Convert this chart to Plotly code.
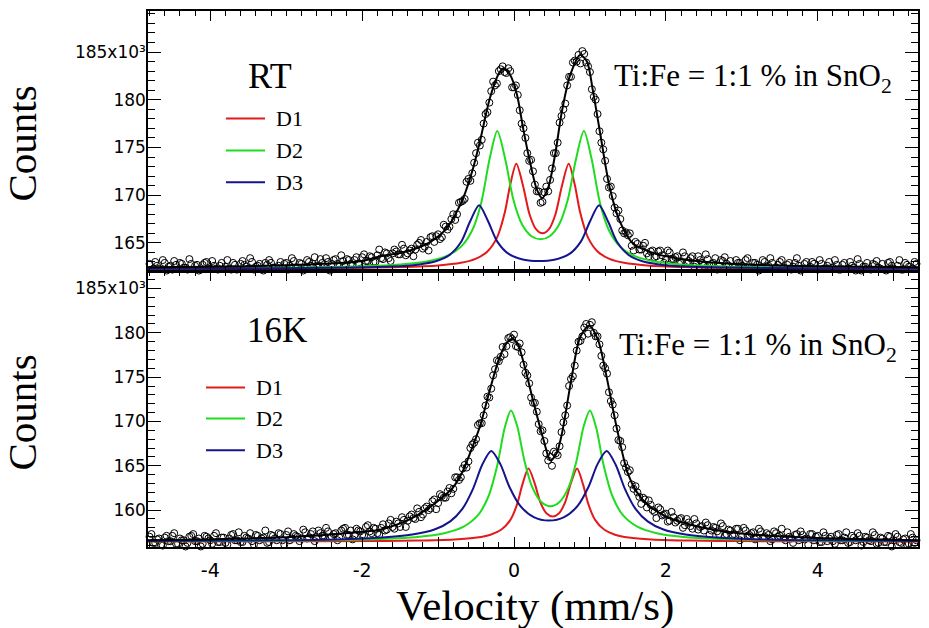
import plotly.graph_objects as go

# ---------------- data ----------------
# channel velocities (mm/s)
velocity = [
-4.800,-4.775,-4.750,-4.725,-4.700,-4.675,-4.650,-4.625,
-4.600,-4.575,-4.550,-4.525,-4.500,-4.475,-4.450,-4.425,
-4.400,-4.375,-4.350,-4.325,-4.300,-4.275,-4.250,-4.225,
-4.200,-4.175,-4.150,-4.125,-4.100,-4.075,-4.050,-4.025,
-4.000,-3.975,-3.950,-3.925,-3.900,-3.875,-3.850,-3.825,
-3.800,-3.775,-3.750,-3.725,-3.700,-3.675,-3.650,-3.625,
-3.600,-3.575,-3.550,-3.525,-3.500,-3.475,-3.450,-3.425,
-3.400,-3.375,-3.350,-3.325,-3.300,-3.275,-3.250,-3.225,
-3.200,-3.175,-3.150,-3.125,-3.100,-3.075,-3.050,-3.025,
-3.000,-2.975,-2.950,-2.925,-2.900,-2.875,-2.850,-2.825,
-2.800,-2.775,-2.750,-2.725,-2.700,-2.675,-2.650,-2.625,
-2.600,-2.575,-2.550,-2.525,-2.500,-2.475,-2.450,-2.425,
-2.400,-2.375,-2.350,-2.325,-2.300,-2.275,-2.250,-2.225,
-2.200,-2.175,-2.150,-2.125,-2.100,-2.075,-2.050,-2.025,
-2.000,-1.975,-1.950,-1.925,-1.900,-1.875,-1.850,-1.825,
-1.800,-1.775,-1.750,-1.725,-1.700,-1.675,-1.650,-1.625,
-1.600,-1.575,-1.550,-1.525,-1.500,-1.475,-1.450,-1.425,
-1.400,-1.375,-1.350,-1.325,-1.300,-1.275,-1.250,-1.225,
-1.200,-1.175,-1.150,-1.125,-1.100,-1.075,-1.050,-1.025,
-1.000,-0.975,-0.950,-0.925,-0.900,-0.875,-0.850,-0.825,
-0.800,-0.775,-0.750,-0.725,-0.700,-0.675,-0.650,-0.625,
-0.600,-0.575,-0.550,-0.525,-0.500,-0.475,-0.450,-0.425,
-0.400,-0.375,-0.350,-0.325,-0.300,-0.275,-0.250,-0.225,
-0.200,-0.175,-0.150,-0.125,-0.100,-0.075,-0.050,-0.025,
0.000,0.025,0.050,0.075,0.100,0.125,0.150,0.175,
0.200,0.225,0.250,0.275,0.300,0.325,0.350,0.375,
0.400,0.425,0.450,0.475,0.500,0.525,0.550,0.575,
0.600,0.625,0.650,0.675,0.700,0.725,0.750,0.775,
0.800,0.825,0.850,0.875,0.900,0.925,0.950,0.975,
1.000,1.025,1.050,1.075,1.100,1.125,1.150,1.175,
1.200,1.225,1.250,1.275,1.300,1.325,1.350,1.375,
1.400,1.425,1.450,1.475,1.500,1.525,1.550,1.575,
1.600,1.625,1.650,1.675,1.700,1.725,1.750,1.775,
1.800,1.825,1.850,1.875,1.900,1.925,1.950,1.975,
2.000,2.025,2.050,2.075,2.100,2.125,2.150,2.175,
2.200,2.225,2.250,2.275,2.300,2.325,2.350,2.375,
2.400,2.425,2.450,2.475,2.500,2.525,2.550,2.575,
2.600,2.625,2.650,2.675,2.700,2.725,2.750,2.775,
2.800,2.825,2.850,2.875,2.900,2.925,2.950,2.975,
3.000,3.025,3.050,3.075,3.100,3.125,3.150,3.175,
3.200,3.225,3.250,3.275,3.300,3.325,3.350,3.375,
3.400,3.425,3.450,3.475,3.500,3.525,3.550,3.575,
3.600,3.625,3.650,3.675,3.700,3.725,3.750,3.775,
3.800,3.825,3.850,3.875,3.900,3.925,3.950,3.975,
4.000,4.025,4.050,4.075,4.100,4.125,4.150,4.175,
4.200,4.225,4.250,4.275,4.300,4.325,4.350,4.375,
4.400,4.425,4.450,4.475,4.500,4.525,4.550,4.575,
4.600,4.625,4.650,4.675,4.700,4.725,4.750,4.775,
4.800,4.825,4.850,4.875,4.900,4.925,4.950,4.975,
5.000,5.025,5.050,5.075,5.100,5.125,5.150,5.175,
5.200,5.225,5.250,5.275,5.300]

# counts in units of 10^3, room temperature
counts_rt = [
162.8,161.9,162.3,163.0,162.6,162.3,162.0,163.2,
162.9,162.1,162.5,162.6,162.2,163.1,162.7,161.8,
162.9,162.8,162.4,162.4,162.2,163.3,162.8,162.0,
162.6,162.7,162.1,162.2,162.7,162.9,163.0,161.7,
162.3,163.1,162.6,162.3,162.2,162.6,162.9,162.0,
162.5,163.2,162.3,162.2,162.9,162.7,162.2,162.0,
162.8,163.1,162.7,162.5,162.3,163.4,163.0,162.2,
162.5,162.6,162.8,161.9,162.1,162.9,162.7,163.2,
162.9,162.4,162.4,161.8,162.6,163.0,162.3,162.8,
162.9,162.2,162.6,163.4,163.1,162.4,162.4,162.9,
162.8,162.1,162.3,163.2,163.0,162.6,162.8,163.5,
162.6,162.4,163.3,162.9,162.5,163.4,163.0,162.1,
162.8,163.2,163.3,162.8,162.5,163.7,163.1,162.5,
163.3,163.2,162.8,162.7,163.2,163.5,162.8,162.3,
163.5,163.8,163.1,163.1,163.6,163.5,163.0,163.0,
163.7,164.3,163.4,163.3,164.0,163.9,163.4,163.1,
163.9,164.3,164.1,163.8,163.8,164.8,164.4,163.7,
163.9,164.2,164.4,163.6,164.3,164.8,165.0,165.3,
164.4,164.6,165.1,164.2,165.6,165.7,165.1,165.7,
165.9,165.4,165.6,166.9,166.7,166.4,166.7,167.5,
168.0,167.4,168.0,169.2,169.3,169.4,169.6,171.4,
171.7,171.5,172.3,173.4,174.4,175.5,175.2,175.8,
177.5,178.5,178.7,179.7,180.9,181.9,181.5,181.7,
183.0,183.2,183.5,182.9,182.8,183.3,183.0,181.3,
181.3,181.5,180.5,178.9,177.5,177.0,176.0,174.4,
173.6,173.7,172.5,171.1,170.4,170.4,169.2,169.3,
170.3,170.9,170.4,171.6,172.8,174.4,174.4,175.5,
177.6,178.3,179.0,179.6,181.5,182.4,182.4,183.9,
184.1,184.0,184.7,183.8,185.1,184.8,183.9,183.5,
182.9,181.1,180.3,180.0,178.5,176.7,175.5,174.8,
173.6,171.7,170.8,170.9,169.9,168.7,168.1,168.4,
167.5,166.3,166.0,166.1,165.8,166.0,164.7,164.2,
165.1,164.9,164.3,164.3,164.7,165.0,163.9,163.6,
164.1,164.2,163.5,163.6,164.1,164.2,163.7,162.9,
163.3,164.2,164.0,163.3,163.3,163.5,163.6,162.8,
162.9,164.0,163.6,162.9,163.1,163.4,163.6,162.5,
162.8,163.6,163.2,162.9,162.6,163.8,163.3,162.6,
162.8,162.9,163.4,162.2,162.6,163.2,163.1,163.5,
162.8,162.6,163.1,162.0,162.4,163.2,162.9,162.9,
162.6,162.3,163.2,163.4,162.4,162.4,162.9,162.9,
162.7,162.1,162.3,163.2,163.0,162.5,162.6,163.4,
162.9,162.3,162.4,162.7,163.0,163.2,162.4,161.9,
162.7,162.9,162.2,162.5,162.9,163.4,162.6,162.1,
162.3,162.8,163.0,162.3,162.5,163.0,162.8,161.8,
162.2,163.2,162.8,162.3,162.3,162.6,163.0,162.0,
162.4,163.2,162.7,162.2,162.2,162.7,162.9,161.9,
162.3,163.0,162.6,162.4,162.1,163.3,162.8,162.1,
162.5,162.5,162.9,161.8,162.2,162.8,162.7,163.1,
162.4,162.3,162.8,161.7,162.1,162.9,163.0,162.6,
162.3,162.0,162.6,163.2,162.2,162.2,162.9,162.7,
162.5,161.9,162.3,163.0,162.8]

# counts in units of 10^3, 16 K
counts_16k = [
157.0,157.3,156.3,156.3,156.7,156.8,156.1,156.0,
156.9,157.1,156.5,156.5,157.1,157.4,156.2,156.2,
156.8,156.6,156.6,155.9,156.3,157.0,157.1,157.3,
156.5,156.5,156.8,155.9,156.2,157.1,157.0,156.8,
156.6,156.2,157.1,157.4,156.4,156.4,156.9,156.9,
156.3,156.1,156.8,157.2,157.3,156.6,156.6,157.5,
156.4,156.4,157.1,156.9,156.8,157.4,156.5,156.1,
157.2,157.1,156.6,156.8,156.9,157.7,156.3,156.4,
157.2,157.1,156.8,156.6,157.4,157.3,156.6,156.1,
157.2,157.6,156.6,156.8,157.3,157.1,157.0,156.5,
156.8,157.8,157.5,156.8,156.9,157.3,157.6,156.5,
156.8,157.7,157.4,157.1,157.1,158.0,157.6,156.9,
157.0,157.3,157.4,156.6,156.9,157.7,157.9,158.0,
157.2,157.2,157.7,156.7,157.2,157.9,157.7,157.6,
157.2,157.1,158.1,158.3,157.6,157.4,158.0,157.9,
157.4,157.2,158.0,158.4,157.7,157.8,158.5,158.9,
158.1,157.9,158.7,158.5,158.1,159.2,158.9,158.1,
158.8,159.3,159.5,159.1,159.0,160.2,159.8,159.2,
159.5,160.2,160.4,160.0,160.2,161.0,161.2,160.1,
160.8,161.8,161.6,161.4,161.4,162.1,162.5,161.9,
162.4,163.7,163.7,163.4,163.7,164.7,165.1,164.8,
165.5,167.0,167.4,167.6,168.0,169.6,169.8,169.8,
170.7,171.8,172.8,172.7,173.7,175.2,175.9,176.9,
176.8,177.3,178.4,177.6,178.5,179.4,179.5,179.3,
179.8,178.5,178.4,178.8,177.8,176.4,175.5,175.2,
174.3,172.7,172.1,172.1,171.1,169.7,168.9,169.0,
167.8,166.4,165.6,166.0,165.0,166.6,166.4,166.2,
167.2,168.8,169.9,170.7,171.8,174.0,174.8,175.1,
176.3,178.0,179.0,179.1,179.6,180.6,181.0,179.9,
180.9,181.2,180.0,179.6,179.6,178.7,177.4,176.3,
176.0,175.4,173.3,172.3,171.9,170.7,169.2,167.9,
167.8,167.1,165.3,164.8,164.3,164.5,162.9,162.4,
162.7,162.0,161.5,160.7,161.4,161.2,160.3,161.1,
160.6,160.0,159.8,159.1,160.3,160.1,159.4,159.5,
159.6,158.7,158.8,159.8,159.2,158.6,158.8,159.0,
159.1,158.0,158.3,159.0,158.6,158.2,157.9,159.0,
158.5,157.8,158.1,158.2,157.7,158.6,158.3,157.2,
157.7,158.1,158.0,157.6,157.3,158.5,158.2,157.1,
157.3,157.8,157.7,157.2,157.3,157.9,157.9,156.6,
157.0,158.0,157.7,157.1,157.2,157.4,157.5,156.7,
156.9,157.9,157.6,156.9,157.0,157.4,157.2,156.5,
156.7,157.6,157.4,157.0,157.1,157.9,156.8,156.6,
157.5,157.0,156.8,156.3,157.2,157.3,156.6,157.6,
157.2,156.7,156.8,156.1,157.3,157.3,156.6,157.0,
157.1,156.4,156.4,157.5,157.1,156.5,156.8,157.0,
156.5,156.2,157.2,157.3,156.6,156.6,156.9,157.5,
156.3,156.4,157.1,156.9,156.6,157.4,157.1,156.0,
156.4,157.0,156.9,156.6,156.5,157.5,157.2,156.2,
156.3,156.9,156.8,156.4,156.4,157.1,157.0,155.9,
156.6,157.3,157.0,156.4,156.3,156.7,156.8,156.1,
156.2,157.3,156.9,156.3,156.6]

# total fit (black)
fit_rt_v = [-4.82,-4.0,-3.0,-2.5,-2.0,-1.76,-1.5,-1.33,-1.10,-0.88,-0.67,-0.54,-0.45,-0.32,
            -0.21,-0.14,-0.05,0.04,0.12,0.21,0.30,0.37,0.45,0.54,0.63,0.74,0.87,0.96,1.04,
            1.13,1.26,1.39,1.57,1.85,2.2,2.6,3.2,4.0,5.32]
fit_rt = [162.45,162.5,162.65,162.8,163.1,163.6,163.95,164.3,165.1,166.6,169.7,172.8,175.6,180.1,
          182.6,183.3,182.6,180.5,177.0,173.5,170.6,169.7,170.8,174.2,178.75,182.6,184.7,184.0,180.9,
          176.7,170.8,167.3,164.9,163.9,163.3,162.95,162.7,162.55,162.45]

fit_16k_v = [-4.82,-4.0,-3.0,-2.5,-2.0,-1.76,-1.5,-1.3,-1.1,-0.95,-0.80,-0.68,-0.58,-0.45,-0.32,
             -0.20,-0.10,-0.03,0.04,0.12,0.25,0.39,0.48,0.56,0.63,0.76,0.87,0.99,1.11,1.22,1.35,
             1.5,1.62,1.76,2.0,2.3,2.7,3.2,4.0,5.32]
fit_16k = [156.6,156.7,156.95,157.2,157.55,157.8,158.5,159.3,160.4,161.4,162.6,164.3,166.4,169.4,173.5,
           177.0,178.8,179.3,178.9,176.85,172.4,167.9,165.6,166.4,168.6,175.0,179.5,180.8,179.1,175.0,169.4,
           164.1,162.0,160.6,159.3,158.4,157.7,157.2,156.85,156.6]

# sub-spectra, RT
d1_rt_v = [-4.8,-3.0,-2.0,-1.5,-1.0,-0.7,-0.5,-0.35,-0.22,-0.12,-0.05,0.03,0.12,0.205,0.29,0.375,
           0.46,0.545,0.63,0.72,0.80,0.87,0.97,1.10,1.25,1.45,1.75,2.25,2.75,3.75,5.55]
d1_rt = [162.32,162.35,162.40,162.47,162.64,162.91,163.35,164.10,165.63,168.23,171.09,173.28,170.93,167.98,166.44,166.00,
         166.44,167.98,170.93,173.28,171.09,168.23,165.63,164.10,163.35,162.91,162.64,162.47,162.40,162.35,162.32]
d2_rt_v = [-4.82,-3.65,-2.65,-2.0,-1.5,-1.15,-0.9,-0.7,-0.55,-0.43,-0.32,-0.22,-0.11,-0.01,0.11,0.23,0.35,
           0.47,0.59,0.71,0.81,0.92,1.02,1.13,1.25,1.40,1.60,1.85,2.20,2.70,3.35,4.35,5.52]
d2_rt = [162.35,162.37,162.44,162.54,162.73,163.05,163.58,164.58,166.32,169.26,173.86,176.72,173.56,169.58,166.87,165.70,165.37,
         165.70,166.87,169.58,173.56,176.72,173.86,169.26,166.32,164.58,163.58,163.05,162.73,162.54,162.44,162.37,162.35]
d3_rt_v = [-4.82,-3.67,-2.77,-2.12,-1.62,-1.27,-1.02,-0.85,-0.70,-0.58,-0.46,-0.34,-0.22,-0.07,0.13,0.33,
           0.53,0.73,0.88,1.00,1.12,1.24,1.36,1.51,1.68,1.93,2.28,2.78,3.43,4.33,5.48]
d3_rt = [162.32,162.34,162.37,162.42,162.52,162.72,163.10,163.73,165.06,167.21,168.95,167.24,165.13,163.84,163.23,163.09,
         163.23,163.84,165.13,167.24,168.95,167.21,165.06,163.73,163.10,162.72,162.52,162.42,162.37,162.34,162.32]

# sub-spectra, 16K
d1_16k_v = [-4.82,-2.99,-1.99,-1.29,-0.79,-0.49,-0.31,-0.17,-0.05,0.04,0.11,0.19,0.27,0.35,0.43,0.51,
            0.59,0.67,0.75,0.83,0.91,0.98,1.07,1.19,1.33,1.51,1.81,2.31,3.01,4.01,5.84]
d1_16k = [156.46,156.48,156.51,156.57,156.70,156.91,157.23,157.78,158.87,160.64,162.87,164.69,163.07,160.81,159.61,159.27,
          159.61,160.81,163.07,164.69,162.87,160.64,158.87,157.78,157.23,156.91,156.70,156.57,156.51,156.48,156.46]
d2_16k_v = [-4.82,-3.52,-2.52,-1.77,-1.27,-0.92,-0.67,-0.48,-0.34,-0.22,-0.12,-0.04,0.04,0.14,0.24,0.36,0.48,
            0.60,0.72,0.82,0.92,1.00,1.08,1.18,1.30,1.44,1.63,1.88,2.23,2.73,3.48,4.48,5.78]
d2_16k = [156.50,156.53,156.60,156.74,156.97,157.39,158.10,159.37,161.48,165.07,169.37,171.25,169.54,165.46,162.59,160.91,160.44,
          160.91,162.59,165.46,169.54,171.25,169.37,165.07,161.48,159.37,158.10,157.39,156.97,156.74,156.60,156.53,156.50]
d3_16k_v = [-4.82,-3.14,-2.34,-1.74,-1.34,-1.04,-0.84,-0.68,-0.54,-0.42,-0.30,-0.18,-0.06,0.08,0.26,0.46,
            0.66,0.84,0.98,1.10,1.22,1.34,1.46,1.60,1.76,1.96,2.26,2.66,3.26,4.06,5.74]
d3_16k = [156.51,156.59,156.69,156.90,157.24,157.84,158.73,160.14,162.40,165.09,166.67,165.19,162.61,160.50,159.21,158.82,
          159.21,160.50,162.61,165.19,166.67,165.09,162.40,160.14,158.73,157.84,157.24,156.90,156.69,156.59,156.51]

legend_names = ["D1", "D2", "D3"]
sample_label = "Ti:Fe = 1:1 % in SnO<sub>2</sub>"
yticks_rt = [165, 170, 175, 180, 185]
yticks_16k = [160, 165, 170, 175, 180, 185]
xticks = [-4, -3, -2, -1, 0, 1, 2, 3, 4, 5]

# ---------------- styling ----------------
RED, GREEN, BLUE = "#e31a1c", "#1fdc1f", "#14148c"
SERIF = "Liberation Serif"
SANS = "DejaVu Sans"
W, H = 929, 628
L, R, T, B = 148, 11, 9, 81
PH = H - T - B
split = 277 / PH  # bottom panel fraction

fig = go.Figure()

def add_panel(xa, ya, v, counts, fv, fy, comps):
    fig.add_trace(go.Scatter(x=v, y=counts, mode="markers", xaxis=xa, yaxis=ya, cliponaxis=False,
                             marker=dict(symbol="circle-open", size=7, color="black",
                                         line=dict(width=1, color="black")),
                             showlegend=False))
    for (cx, cy), col in zip(comps, [RED, GREEN, BLUE]):
        fig.add_trace(go.Scatter(x=cx, y=cy, mode="lines", xaxis=xa, yaxis=ya,
                                 line=dict(color=col, width=2, shape="spline", smoothing=0.8),
                                 showlegend=False))
    fig.add_trace(go.Scatter(x=fv, y=fy, mode="lines", xaxis=xa, yaxis=ya,
                             line=dict(color="black", width=2, shape="spline", smoothing=0.8),
                             showlegend=False))

add_panel("x2", "y2", velocity, counts_rt, fit_rt_v, fit_rt,
          [(d1_rt_v, d1_rt), (d2_rt_v, d2_rt), (d3_rt_v, d3_rt)])
add_panel("x", "y", velocity, counts_16k, fit_16k_v, fit_16k,
          [(d1_16k_v, d1_16k), (d2_16k_v, d2_16k), (d3_16k_v, d3_16k)])

xtext = [str(t) if t % 2 == 0 else "" for t in xticks]
xcommon = dict(range=[-4.82, 5.32], showline=True, linecolor="black", linewidth=1.5,
               mirror="ticks", ticks="inside", ticklen=10, tickwidth=1.2, tickcolor="black",
               tickvals=xticks, ticktext=xtext, showgrid=False, zeroline=False,
               minor=dict(ticks="inside", ticklen=5, dtick=0.2, tick0=0, tickcolor="black", tickwidth=1))
ycommon = dict(showline=True, linecolor="black", linewidth=1.5, mirror="ticks", ticks="inside",
               ticklen=13, tickwidth=1.2, tickcolor="black", showgrid=False, zeroline=False,
               tickfont=dict(family=SANS, size=17, color="black"), ticklabelstandoff=-3,
               minor=dict(ticks="inside", ticklen=7, dtick=1, tick0=0, tickcolor="black", tickwidth=1))

top_label = "185x10\u00b3"
fig.update_layout(
    width=W, height=H, margin=dict(l=L, r=R, t=T, b=B),
    paper_bgcolor="white", plot_bgcolor="white", showlegend=False,
    xaxis=dict(**xcommon, anchor="y", tickfont=dict(family=SANS, size=19, color="black"),
               ticklabelstandoff=5),
    xaxis2=dict(**xcommon, anchor="y2", matches="x", showticklabels=False),
    yaxis=dict(**ycommon, domain=[0, split], range=[155.84, 186.97], anchor="x",
               tickvals=yticks_16k, ticktext=[str(t) for t in yticks_16k[:-1]] + [top_label]),
    yaxis2=dict(**ycommon, domain=[split, 1], range=[162.05, 189.3], anchor="x2",
                tickvals=yticks_rt, ticktext=[str(t) for t in yticks_rt[:-1]] + [top_label]),
)

def px_x(p):
    return (p - L) / (W - L - R)

def px_y(p):
    return (H - B - p) / PH

def text(t, x, y, size, xanchor="center", yanchor="middle", angle=0):
    return dict(text=t, x=px_x(x), y=px_y(y), xanchor=xanchor, yanchor=yanchor, textangle=angle,
                showarrow=False, xref="paper", yref="paper",
                font=dict(family=SERIF, size=size, color="black"))

ann = [
    text("Counts", 22, 142, 41, angle=-90),
    text("Counts", 22, 412, 41, angle=-90),
    text("Velocity (mm/s)", 535, 632, 43, yanchor="bottom"),
    text("RT", 270, 74, 36),
    text("16K", 277, 330, 35),
    text(sample_label, 612, 76, 31, xanchor="left"),
    text(sample_label, 617, 346, 31, xanchor="left"),
]

shapes = []
for ys, x0, x1, xt in [([117, 149, 181], 226, 265, 274), ([387, 418, 450], 206, 245, 254)]:
    for yy, col, name in zip(ys, [RED, GREEN, BLUE], legend_names):
        shapes.append(dict(type="line", xref="paper", yref="paper", x0=px_x(x0), x1=px_x(x1),
                           y0=px_y(yy), y1=px_y(yy), line=dict(color=col, width=2)))
        ann.append(text(name, xt, yy, 22, xanchor="left"))

fig.update_layout(annotations=ann, shapes=shapes)
fig.write_html("out.html", config={"displayModeBar": False},
               post_script="document.body.style.margin='0';document.body.style.padding='0';")
